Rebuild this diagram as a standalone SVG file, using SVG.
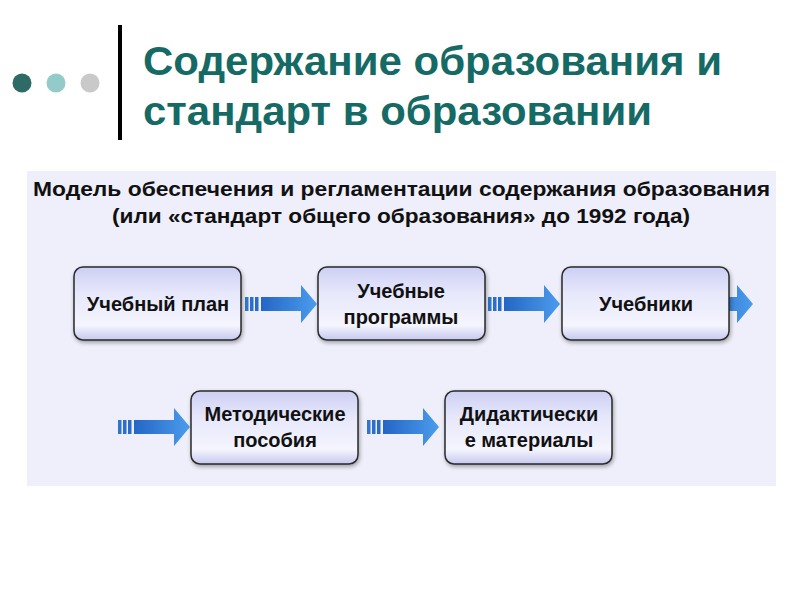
<svg xmlns="http://www.w3.org/2000/svg" width="800" height="600" viewBox="0 0 800 600">
<defs>
<linearGradient id="boxg" x1="0" y1="0" x2="0" y2="1">
<stop offset="0" stop-color="#CDCFF4"/>
<stop offset="0.35" stop-color="#E6E7FB"/>
<stop offset="0.8" stop-color="#F5F5FE"/>
<stop offset="1" stop-color="#C6C8EF"/>
</linearGradient>
<linearGradient id="arrg" x1="0" y1="0" x2="1" y2="0">
<stop offset="0" stop-color="#2466C6"/>
<stop offset="1" stop-color="#4B9CEC"/>
</linearGradient>
<filter id="sh" x="-10%" y="-10%" width="120%" height="130%">
<feGaussianBlur in="SourceAlpha" stdDeviation="2"/>
<feOffset dx="1" dy="2" result="b"/>
<feComponentTransfer><feFuncA type="linear" slope="0.35"/></feComponentTransfer>
<feMerge><feMergeNode/><feMergeNode in="SourceGraphic"/></feMerge>
</filter>
<g id="arrow">
<rect x="0" y="-7" width="3.5" height="14" fill="#3275CF"/>
<rect x="5" y="-7" width="3.5" height="14" fill="#2C6FCB"/>
<rect x="10" y="-7" width="3.5" height="14" fill="#2A6BC9"/>
<path d="M16,-7 H56 V-19 L72,0 L56,19 V7 H16 Z" fill="url(#arrg)"/>
</g>
</defs>
<style>
.title{font-family:"Liberation Sans",Arial,sans-serif;font-weight:bold;font-size:41px;fill:#166A66}
.sub{font-family:"Liberation Sans Narrow","Liberation Sans",Arial,sans-serif;font-weight:bold;font-size:20px;fill:#111}
.box{fill:url(#boxg);stroke:#2a2a2a;stroke-width:1.5;filter:url(#sh)}
.lbl{font-family:"Liberation Sans",Arial,sans-serif;font-weight:bold;font-size:20px;fill:#111;text-anchor:middle}
</style>
<rect width="800" height="600" fill="#FFFFFF"/>
<circle cx="22" cy="83" r="9.5" fill="#2F6B66"/>
<circle cx="56" cy="83" r="9.5" fill="#93CBCB"/>
<circle cx="90" cy="83" r="9.5" fill="#C9C9C9"/>
<rect x="118" y="25" width="4" height="115" fill="#000"/>
<text class="title" x="143" y="75" textLength="579" lengthAdjust="spacingAndGlyphs">Содержание образования и</text>
<text class="title" x="143" y="125" textLength="509" lengthAdjust="spacingAndGlyphs">стандарт в образовании</text>
<rect x="27" y="171" width="749" height="315" fill="#EFEFFB"/>
<text class="sub" x="33" y="196" textLength="737" lengthAdjust="spacingAndGlyphs">Модель обеспечения и регламентации содержания образования</text>
<text class="sub" x="112" y="223" textLength="578" lengthAdjust="spacingAndGlyphs">(или «стандарт общего образования» до 1992 года)</text>
<g id="connectors">
<use href="#arrow" x="245" y="304"/>
<use href="#arrow" x="488" y="304"/>
<use href="#arrow" x="681" y="304"/>
<use href="#arrow" x="118" y="427"/>
<use href="#arrow" x="367" y="427"/>
</g>
<g id="n1"><rect class="box" x="74" y="267" width="167" height="73" rx="9"/><text class="lbl" x="158" y="311">Учебный план</text></g>
<g id="n2"><rect class="box" x="318" y="267" width="167" height="73" rx="9"/><text class="lbl" x="401" y="298">Учебные</text><text class="lbl" x="401" y="324">программы</text></g>
<g id="n3"><rect class="box" x="562" y="267" width="167" height="73" rx="9"/><text class="lbl" x="646" y="311">Учебники</text></g>
<g id="n4"><rect class="box" x="191" y="391" width="167" height="73" rx="9"/><text class="lbl" x="275" y="421">Методические</text><text class="lbl" x="275" y="447">пособия</text></g>
<g id="n5"><rect class="box" x="445" y="391" width="167" height="73" rx="9"/><text class="lbl" x="529" y="421">Дидактически</text><text class="lbl" x="529" y="447">е материалы</text></g>
</svg>
